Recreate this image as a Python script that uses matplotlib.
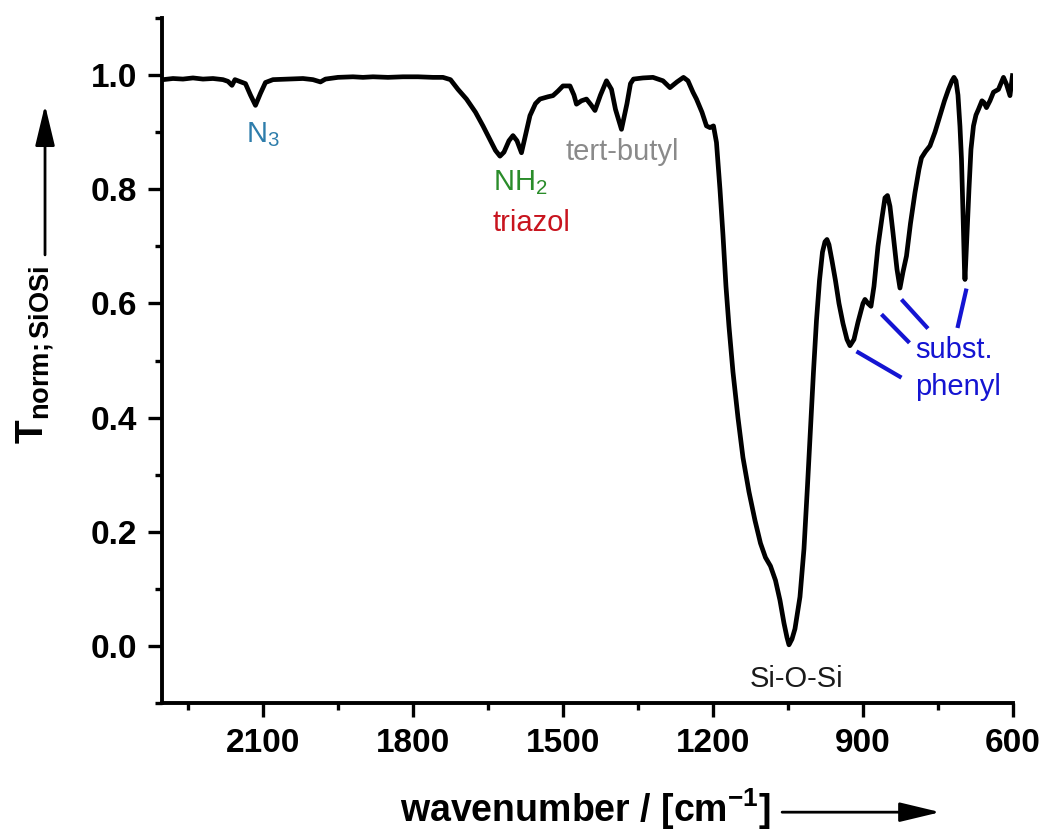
import matplotlib
matplotlib.use('Agg')
import matplotlib.pyplot as plt
from matplotlib.ticker import MultipleLocator

plt.rcParams['font.family'] = ['Liberation Sans', 'DejaVu Sans']
plt.rcParams['mathtext.fontset'] = 'custom'
plt.rcParams['mathtext.rm'] = 'Liberation Sans'
plt.rcParams['mathtext.bf'] = 'Liberation Sans:bold'
plt.rcParams['mathtext.it'] = 'Liberation Sans:italic'

# IR spectrum (wavenumber in cm-1, normalised transmission)
wavenumber = [
    2300, 2280, 2260, 2240, 2220, 2200, 2180, 2170, 2162, 2156, 2150, 2135,
    2125, 2115, 2105, 2095, 2080, 2050, 2020, 2000, 1985, 1975, 1950, 1920,
    1900, 1880, 1850, 1820, 1790, 1760, 1740, 1725, 1710, 1693, 1675, 1660,
    1645, 1635, 1626, 1618, 1608, 1600, 1592, 1583, 1575, 1566, 1555, 1546,
    1530, 1520, 1510, 1500, 1486, 1478, 1473, 1463, 1453, 1444, 1436, 1425,
    1413, 1403, 1395, 1383, 1372, 1365, 1359, 1340, 1320, 1300, 1286, 1272,
    1259, 1250, 1240, 1233, 1222, 1213, 1206, 1199, 1193, 1186, 1180, 1174,
    1168, 1160, 1150, 1140, 1128, 1116, 1105, 1095, 1085, 1075, 1066, 1058,
    1052, 1048, 1042, 1036, 1026, 1018, 1011, 1005, 999, 993, 987, 981,
    976, 972, 968, 962, 955, 948, 940, 932, 926, 918, 910, 900,
    896, 890, 884, 878, 870, 862, 856, 851, 846, 840, 832, 826,
    820, 813, 805, 796, 788, 783, 775, 766, 756, 746, 737, 729,
    722, 718, 714, 710, 706, 703, 700, 697, 696, 694, 691, 688,
    684, 679, 674, 669, 662, 658, 653, 646, 639, 629, 619, 613,
    606, 601,
]
transmission = [
    0.992, 0.994, 0.993, 0.995, 0.993, 0.994, 0.992, 0.989, 0.982, 0.992, 0.990, 0.985,
    0.965, 0.947, 0.968, 0.987, 0.992, 0.993, 0.994, 0.992, 0.988, 0.993, 0.996, 0.997,
    0.996, 0.997, 0.996, 0.997, 0.997, 0.996, 0.996, 0.992, 0.975, 0.958, 0.935, 0.911,
    0.885, 0.868, 0.858, 0.865, 0.885, 0.894, 0.885, 0.864, 0.895, 0.929, 0.950, 0.958,
    0.962, 0.964, 0.972, 0.981, 0.981, 0.965, 0.949, 0.955, 0.958, 0.948, 0.938, 0.965,
    0.990, 0.975, 0.940, 0.905, 0.950, 0.985, 0.993, 0.995, 0.996, 0.990, 0.978, 0.988,
    0.996, 0.990, 0.970, 0.958, 0.935, 0.911, 0.908, 0.911, 0.882, 0.800, 0.720, 0.630,
    0.560, 0.480, 0.400, 0.330, 0.270, 0.220, 0.180, 0.155, 0.140, 0.115, 0.080, 0.040,
    0.015, 0.002, 0.012, 0.030, 0.086, 0.170, 0.280, 0.380, 0.480, 0.570, 0.640, 0.690,
    0.708, 0.712, 0.703, 0.675, 0.640, 0.600, 0.565, 0.537, 0.526, 0.537, 0.567, 0.600,
    0.607, 0.600, 0.595, 0.630, 0.700, 0.750, 0.785, 0.789, 0.770, 0.724, 0.660, 0.627,
    0.655, 0.683, 0.740, 0.794, 0.835, 0.855, 0.866, 0.876, 0.900, 0.929, 0.955, 0.975,
    0.990, 0.996, 0.990, 0.965, 0.910, 0.853, 0.760, 0.660, 0.642, 0.680, 0.740, 0.800,
    0.870, 0.911, 0.930, 0.940, 0.955, 0.952, 0.943, 0.955, 0.970, 0.975, 0.996, 0.984,
    0.964, 0.999,
]

# band labels: text, wavenumber (left edge), transmission (baseline), colour
band_text = ['N$_3$', 'NH$_2$', 'triazol', 'tert-butyl', 'Si-O-Si', 'subst.', 'phenyl']
band_wn = [2134, 1640, 1640, 1495, 1126, 796, 796]
band_t = [0.883, 0.798, 0.727, 0.851, -0.0725, 0.505, 0.440]
band_color = ['#2e7dab', '#2a8c2a', '#c8141e', '#8a8a8a', '#1a1a1a', '#1414d2', '#1414d2']

# pointer lines for the substituted phenyl bands
phenyl_wn = [(913, 823), (863, 807), (823, 770), (693, 711)]
phenyl_t = [(0.516, 0.470), (0.581, 0.531), (0.607, 0.556), (0.626, 0.557)]

fig = plt.figure(figsize=(10.47, 8.33), dpi=100)
ax = fig.add_axes([0.1547, 0.156, 0.8128, 0.8224])

ax.plot(wavenumber, transmission, color='black', linewidth=3.4)

for txt, x, y, c in zip(band_text, band_wn, band_t, band_color):
    ax.text(x, y, txt, color=c, fontsize=21, ha='left', va='baseline')

for xs, ys in zip(phenyl_wn, phenyl_t):
    ax.plot(xs, ys, color='#1414d2', linewidth=3, solid_capstyle='butt')

ax.set_xlim(2302, 600)
ax.set_ylim(-0.1, 1.1)
ax.xaxis.set_major_locator(MultipleLocator(300))
ax.xaxis.set_minor_locator(MultipleLocator(150))
ax.yaxis.set_major_locator(MultipleLocator(0.2))
ax.yaxis.set_minor_locator(MultipleLocator(0.1))

for s in ['top', 'right']:
    ax.spines[s].set_visible(False)
for s in ['left', 'bottom']:
    ax.spines[s].set_linewidth(2.8)

ax.tick_params(which='major', length=10, width=2.4, direction='out', labelsize=24, pad=8)
ax.tick_params(which='minor', length=5, width=2.4, direction='out')
for lab in ax.get_xticklabels() + ax.get_yticklabels():
    lab.set_fontweight('bold')

ax.set_xlabel(r'wavenumber / [cm$^{\mathbf{-1}}$]', fontsize=27, fontweight='bold')
ax.xaxis.set_label_coords(0.498, -0.1737)
ax.xaxis.label.set_va('baseline')
ax.set_ylabel(r'T$_{\mathbf{norm;SiOSi}}$', fontsize=28, fontweight='bold')
ax.yaxis.set_label_coords(-0.123, 0.508)

# arrows next to the axis titles
arrow = dict(arrowstyle='-|>,head_length=1.25,head_width=0.3', mutation_scale=20,
             color='black', lw=2, shrinkA=0, shrinkB=0)
fig.add_artist(matplotlib.patches.FancyArrowPatch((0.043, 0.694), (0.043, 0.874),
               transform=fig.transFigure, **arrow))
fig.add_artist(matplotlib.patches.FancyArrowPatch((0.747, 0.025), (0.898, 0.025),
               transform=fig.transFigure, **arrow))

fig.savefig('out.png', dpi=100)
